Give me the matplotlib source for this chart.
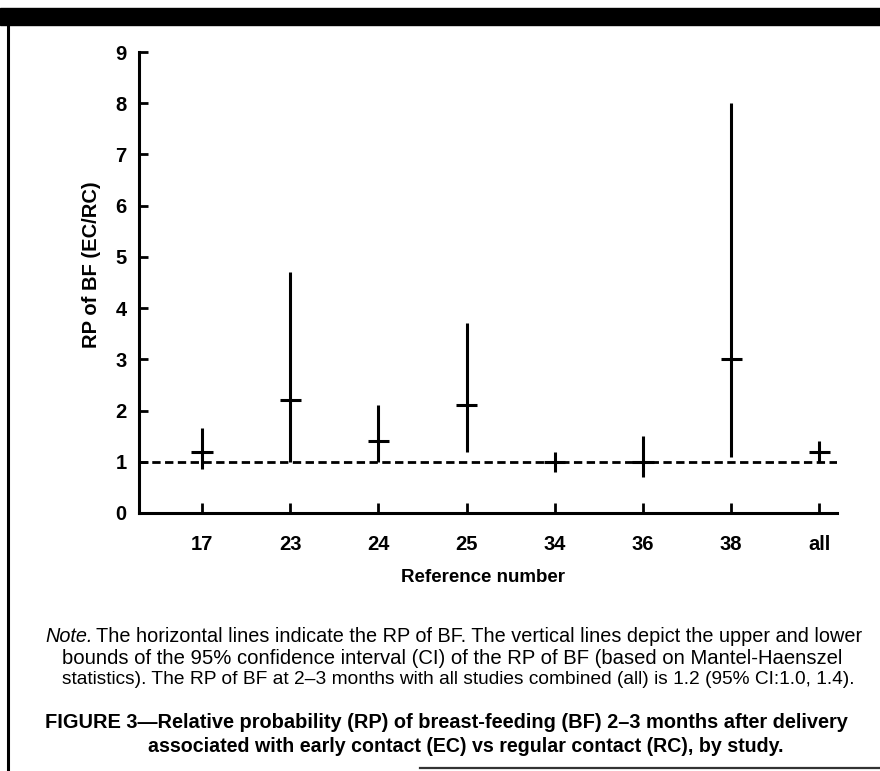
import matplotlib
matplotlib.use("Agg")
import matplotlib.pyplot as plt
from matplotlib import font_manager
from matplotlib.patches import Rectangle
from matplotlib.lines import Line2D

# ---- data ----
categories = ["17", "23", "24", "25", "34", "36", "38", "all"]
rp_values = [1.2, 2.2, 1.4, 2.1, 1.0, 1.0, 3.0, 1.2]
ci_lower = [0.85, 1.0, 1.0, 1.2, 0.8, 0.7, 1.1, 1.0]
ci_upper = [1.65, 4.7, 2.1, 3.7, 1.2, 1.5, 8.0, 1.4]
y_ticks = [0, 1, 2, 3, 4, 5, 6, 7, 8, 9]
reference_line = 1.0

W, H = 880, 771
fig = plt.figure(figsize=(W / 100, H / 100), dpi=100)

names = {f.name for f in font_manager.fontManager.ttflist}
bold_font = "Liberation Sans" if "Liberation Sans" in names else "DejaVu Sans"
narrow_font = "Liberation Sans Narrow" if "Liberation Sans Narrow" in names else bold_font


def fx(px):
    return px / W


def fy(py):
    return 1 - py / H


# frame decorations
fig.patches.append(Rectangle((0, fy(25)), 1, (25 - 8) / H, transform=fig.transFigure,
                             color="black", zorder=5))
fig.lines.append(Line2D([fx(8), fx(8)], [fy(25), fy(771)], transform=fig.transFigure,
                        color="black", lw=2.2))
fig.lines.append(Line2D([fx(420), fx(880)], [fy(768), fy(768)], transform=fig.transFigure,
                        color="#333333", lw=1.6))

# axes: x from 139 to 837 px, y from 513 (0) to 52 (9)
ax_left, ax_right = 139, 837
ax_bottom, ax_top = 513, 52
ax = fig.add_axes([fx(ax_left), fy(ax_bottom), fx(ax_right - ax_left), (ax_bottom - ax_top) / H])

xpos = list(range(len(categories)))
ax.set_xlim(-0.715, 7.2)
ax.set_ylim(0, 9)

lw = 2.2
ax.vlines(xpos, ci_lower, ci_upper, colors="black", lw=lw, zorder=3)
half = 0.12
ax.hlines(rp_values, [x - half for x in xpos], [x + half for x in xpos],
          colors="black", lw=lw, zorder=3)
ax.axhline(reference_line, color="black", lw=2.0, linestyle=(0, (3, 1.6)), zorder=2)

for s in ["top", "right"]:
    ax.spines[s].set_visible(False)
for s in ["left", "bottom"]:
    ax.spines[s].set_linewidth(2.2)

ax.set_yticks(y_ticks)
ax.set_yticklabels([str(v) for v in y_ticks])
ax.set_xticks(xpos)
ax.set_xticklabels(categories)
ax.tick_params(axis="y", direction="in", length=6.5, width=2.0, pad=9)
ax.tick_params(axis="x", direction="in", length=7.5, width=2.0, pad=16)
for lab in ax.get_xticklabels() + ax.get_yticklabels():
    lab.set_fontfamily(bold_font)
    lab.set_fontweight("bold")
    lab.set_fontsize(14.5)

fig.text(fx(91), fy(265), "RP of BF (EC/RC)", rotation=90, ha="center", va="center",
         fontsize=14.5, fontweight="bold", family=bold_font)
fig.text(fx(483), fy(578), "Reference number", ha="center", va="center",
         fontsize=13.5, fontweight="bold", family=bold_font)


def fit_text(x_px, y_px, s, right_px, fs, **kw):
    t = fig.text(fx(x_px), fy(y_px), s, ha="left", va="center", fontsize=fs, **kw)
    fig.canvas.draw()
    bb = t.get_window_extent()
    target = right_px - x_px
    new_fs = fs * target / bb.width
    new_fs = max(fs * 0.94, min(fs * 1.06, new_fs))
    t.set_fontsize(new_fs)
    return t


# note
note_fs = 14.3
t1 = fig.text(fx(45), fy(636), "Note.", ha="left", va="center", fontsize=note_fs,
              family=narrow_font, style="italic")
fig.canvas.draw()
bb = t1.get_window_extent()
fig.text((bb.x1 + 4) / W, fy(636),
         "The horizontal lines indicate the RP of BF. The vertical lines depict the upper and lower",
         ha="left", va="center", fontsize=note_fs, family=narrow_font)
fit_text(62, 658,
         "bounds of the 95% confidence interval (CI) of the RP of BF (based on Mantel-Haenszel",
         847, note_fs, family=narrow_font)
fit_text(62, 680,
         "statistics). The RP of BF at 2\u20133 months with all studies combined (all) is 1.2 (95% CI:1.0, 1.4).",
         858, note_fs, family=narrow_font)

cap_fs = 14.3
fit_text(45, 722,
         "FIGURE 3\u2014Relative probability (RP) of breast-feeding (BF) 2\u20133 months after delivery",
         850, cap_fs, fontweight="bold", family=bold_font)
fit_text(148, 746,
         "associated with early contact (EC) vs regular contact (RC), by study.",
         786, cap_fs, fontweight="bold", family=bold_font)

fig.savefig("out.png", dpi=100)
